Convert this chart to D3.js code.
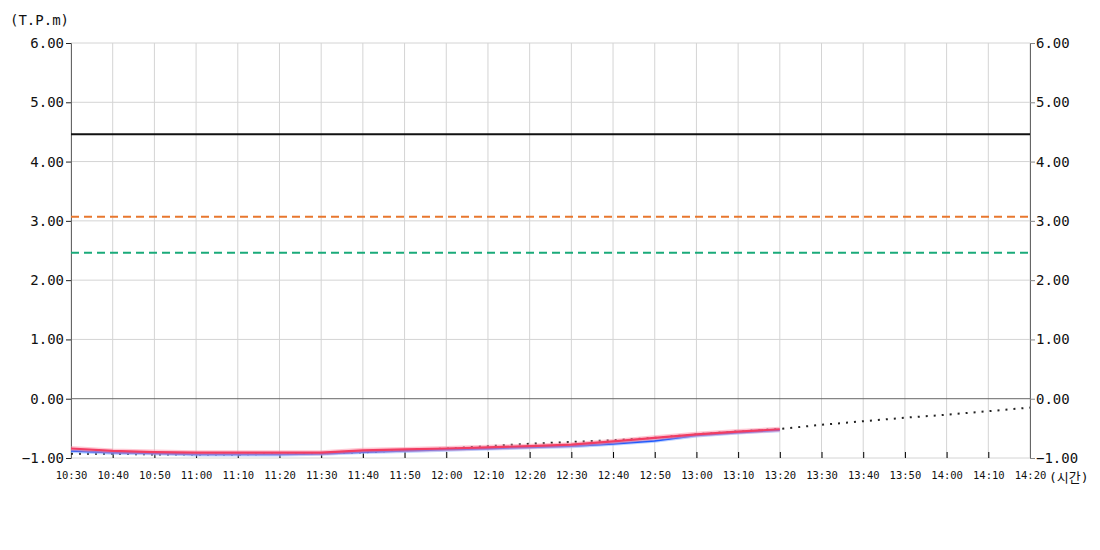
<!DOCTYPE html>
<html>
<head>
<meta charset="utf-8">
<script src="https://cdn.jsdelivr.net/npm/d3@7/dist/d3.min.js"></script>
<style>
  body { margin:0; background:#fff; }
  svg text { font-family: "DejaVu Sans Mono", monospace; fill:#111; }
</style>
</head>
<body>
<svg id="chart" width="1100" height="550"></svg>
<script>
// time slots (10 minutes)
var times = ["10:30","10:40","10:50","11:00","11:10","11:20","11:30","11:40","11:50","12:00","12:10","12:20",
             "12:30","12:40","12:50","13:00","13:10","13:20","13:30","13:40","13:50","14:00","14:10","14:20"];
var yTicks = [-1,0,1,2,3,4,5,6];

// measured series (up to 13:20)
var redValues  = [-0.84,-0.88,-0.90,-0.91,-0.91,-0.91,-0.91,-0.87,-0.855,-0.84,-0.82,-0.80,-0.775,-0.72,-0.66,-0.60,-0.555,-0.515];
var blueValues = [-0.88,-0.91,-0.92,-0.94,-0.94,-0.94,-0.93,-0.90,-0.88,-0.86,-0.84,-0.82,-0.80,-0.76,-0.71,-0.62,-0.57,-0.53];
// forecast (dotted)
var trendValues = [-0.93,-0.93,-0.94,-0.94,-0.94,-0.93,-0.92,-0.905,-0.87,-0.84,-0.80,-0.76,-0.73,-0.70,-0.66,-0.60,
                   -0.55,-0.51,-0.44,-0.38,-0.32,-0.27,-0.21,-0.15];
// reference levels
var limitLevels = [4.46, 3.07, 2.46];

var margin = {left:71, right:70, top:43, bottom:92}
  , width = 1100 - margin.left - margin.right
  , height = 550 - margin.top - margin.bottom;

var svg = d3.select("#chart");
var g = svg.append("g").attr("transform","translate("+margin.left+","+margin.top+")");

var x = d3.scalePoint().domain(times).range([0,width]);
var y = d3.scaleLinear().domain([-1,6]).range([height,0]);

// grid
g.append("g").selectAll("line").data(times).enter().append("line")
  .attr("x1",function(d){return x(d);}).attr("x2",function(d){return x(d);})
  .attr("y1",0).attr("y2",height)
  .attr("stroke","#d4d4d4").attr("stroke-width",1);
g.append("g").selectAll("line").data(yTicks).enter().append("line")
  .attr("x1",0).attr("x2",width)
  .attr("y1",function(d){return y(d);}).attr("y2",function(d){return y(d);})
  .attr("stroke",function(d){return d==0?"#666":"#d4d4d4";}).attr("stroke-width",1);

// left axis
var yLeft = g.append("g").call(d3.axisLeft(y).tickValues(yTicks).tickFormat(d3.format(".2f")).tickSize(5));
yLeft.select(".domain").attr("stroke","#666");
yLeft.selectAll(".tick line").attr("stroke","#222");
yLeft.selectAll("text").attr("font-size",14).attr("x",-7);

// right axis
var yRight = g.append("g").attr("transform","translate("+width+",0)")
  .call(d3.axisRight(y).tickValues(yTicks).tickFormat(d3.format(".2f")).tickSize(5));
yRight.select(".domain").attr("stroke","#666");
yRight.selectAll(".tick line").attr("stroke","#888");
yRight.selectAll("text").attr("font-size",14).attr("x",6);

// bottom axis (inner ticks)
var xAxis = g.append("g").attr("transform","translate(0,"+height+")")
  .call(d3.axisBottom(x).tickSize(-6).tickPadding(14));
xAxis.select(".domain").remove();
xAxis.selectAll(".tick line").attr("stroke","#000")
  .attr("display",function(d,i){return (i==0||i==times.length-1)?"none":null;});
xAxis.selectAll("text").attr("font-size",10.5);

// limit lines
var limitStyle = [{c:"#111",w:2,dash:null},{c:"#e8772e",w:2,dash:"8,5"},{c:"#1aaa7a",w:2,dash:"8,5"}];
g.append("g").selectAll("line").data(limitLevels).enter().append("line")
  .attr("x1",0).attr("x2",width)
  .attr("y1",function(d){return y(d);}).attr("y2",function(d){return y(d);})
  .attr("stroke",function(d,i){return limitStyle[i].c;})
  .attr("stroke-width",function(d,i){return limitStyle[i].w;})
  .attr("stroke-dasharray",function(d,i){return limitStyle[i].dash;});

var line = d3.line().x(function(d,i){return x(times[i]);}).y(function(d){return y(d);});

// forecast dotted
g.append("path").datum(trendValues).attr("d",line)
  .attr("fill","none").attr("stroke","#222").attr("stroke-width",2).attr("stroke-dasharray","2,6");

// blue series
g.append("path").datum(blueValues).attr("d",line)
  .attr("fill","none").attr("stroke","#8fb0ff").attr("stroke-width",4).attr("opacity",0.6);
g.append("path").datum(blueValues).attr("d",line)
  .attr("fill","none").attr("stroke","#1e5cff").attr("stroke-width",1.8);

// red series
g.append("path").datum(redValues).attr("d",line)
  .attr("fill","none").attr("stroke","#ff8fa8").attr("stroke-width",5).attr("opacity",0.5);
g.append("path").datum(redValues).attr("d",line)
  .attr("fill","none").attr("stroke","#f23d63").attr("stroke-width",2.2);

// unit labels
svg.append("text").attr("x",10).attr("y",25).attr("font-size",14).text("(T.P.m)");
svg.append("text").attr("x",1049).attr("y",482).attr("font-size",13)
  .style("font-family","'DejaVu Sans Mono','Noto Sans CJK KR',monospace").text("(시간)");
</script>
</body>
</html>
